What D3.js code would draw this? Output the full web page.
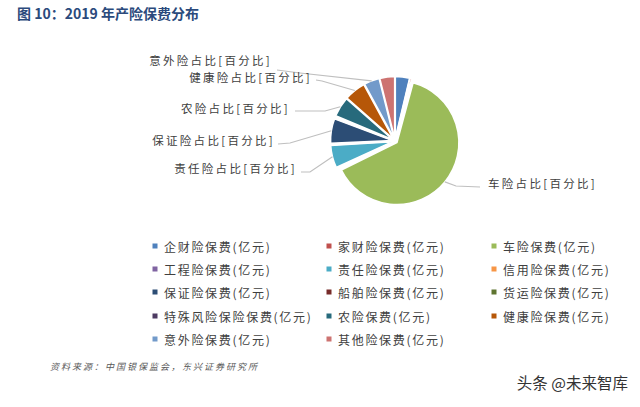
<!DOCTYPE html>
<html><head><meta charset="utf-8">
<script src="https://cdn.jsdelivr.net/npm/d3@7"></script>
<style>
html,body{margin:0;padding:0;background:#fff;}
svg{display:block;font-family:"Noto Sans CJK SC","Noto Sans",sans-serif;}
</style></head>
<body>
<script>
// ---- data ----
const categories = ["企财险保费(亿元)","家财险保费(亿元)","车险保费(亿元)","工程险保费(亿元)","责任险保费(亿元)","信用险保费(亿元)","保证险保费(亿元)","船舶险保费(亿元)","货运险保费(亿元)","特殊风险保险保费(亿元)","农险保费(亿元)","健康险保费(亿元)","意外险保费(亿元)","其他险保费(亿元)"];
const values = [480, 60, 8188, 60, 754, 40, 830, 20, 30, 20, 672, 720, 520, 500];
const colors = ["#4F81BD","#C0504D","#9BBB59","#8064A2","#4BACC6","#F79646","#2C4D75","#772C2A","#5F7530","#4D3B62","#276A7C","#B65708","#729ACA","#CD7371"];
const sliceLabels = ["意外险占比[百分比]","健康险占比[百分比]","农险占比[百分比]","保证险占比[百分比]","责任险占比[百分比]","车险占比[百分比]"];
const labelIndex = [12, 11, 10, 6, 4, 2];
const title = "图 10：2019 年产险保费分布";
const source = "资料来源：中国银保监会，东兴证券研究所";
const watermark = "头条 @未来智库";

// ---- layout ----
const W = 640, H = 407;
const cx = 395, cy = 141, R = 62, explode = 2.5;
// label placement: [textX, textY, anchor, line start x, line start y, elbow x, elbow y]
const labelLayout = [
  [272, 60, "end", 277, 70, 300, 73],
  [312, 77, "end", 316, 80, 322, 81],
  [290, 108, "end", 295, 111, 325, 111],
  [275, 140, "end", 278, 144, 290, 143],
  [297, 168, "end", 301, 172, 310, 172],
  [488, 183, "start", 480, 187, 456, 186]
];

const svg = d3.select("body").append("svg").attr("width", W).attr("height", H);
svg.append("rect").attr("width", W).attr("height", H).attr("fill", "#fff");

svg.append("text").attr("x", 17).attr("y", 19)
  .attr("font-size", 14).attr("font-weight", "bold").attr("fill", "#2B4A7C")
  .text(title);

const pie = d3.pie().sort(null).value(d => d)(values);
const arc = d3.arc().innerRadius(0).outerRadius(R);

const g = svg.append("g").attr("transform", `translate(${cx},${cy})`);
g.selectAll("path.slice").data(pie).join("path")
  .attr("class", "slice")
  .attr("d", arc)
  .attr("fill", (d, i) => colors[i])
  .attr("stroke", "#fff").attr("stroke-width", 1.6)
  .attr("stroke-linejoin", "round")
  .attr("transform", d => {
    const a = (d.startAngle + d.endAngle) / 2;
    return `translate(${explode * Math.sin(a)},${-explode * Math.cos(a)})`;
  });

// leader lines and labels
labelIndex.forEach((idx, k) => {
  const d = pie[idx];
  const L = labelLayout[k];
  const a = (d.startAngle + d.endAngle) / 2;
  const rr = R + explode;
  const ex = cx + rr * Math.sin(a), ey = cy - rr * Math.cos(a);
  svg.append("polyline")
    .attr("points", [[L[3], L[4]], [L[5], L[6]], [ex, ey]].map(p => p.join(",")).join(" "))
    .attr("fill", "none").attr("stroke", "#BFBFBF").attr("stroke-width", 1.2);
  svg.append("text").attr("x", L[0]).attr("y", L[1])
    .attr("text-anchor", L[2]).attr("dominant-baseline", "central")
    .attr("font-size", 11.5).attr("letter-spacing", 2.3).attr("fill", "#404040")
    .text(sliceLabels[k]);
});

// legend
const colX = [155, 329, 494];
const rowY = [246, 269, 292, 316, 339];
const leg = svg.append("g");
categories.forEach((c, i) => {
  const col = i % 3, row = Math.floor(i / 3);
  const x = colX[col], y = rowY[row];
  leg.append("rect").attr("x", x - 2.5).attr("y", y - 2.5).attr("width", 5).attr("height", 5).attr("fill", colors[i]);
  leg.append("text").attr("x", x + 9).attr("y", y).attr("dominant-baseline", "central")
    .attr("font-size", 12).attr("letter-spacing", 1.7).attr("fill", "#404040").text(c);
});

svg.append("text").attr("x", 50).attr("y", 370)
  .attr("font-size", 9).attr("font-style", "italic").attr("letter-spacing", 2)
  .attr("fill", "#595959").text(source);

svg.append("text").attr("x", 628).attr("y", 389).attr("text-anchor", "end")
  .attr("font-size", 15.5).attr("fill", "#333")
  .attr("stroke", "#fff").attr("stroke-width", 2).attr("paint-order", "stroke")
  .text(watermark);
</script>
</body></html>
